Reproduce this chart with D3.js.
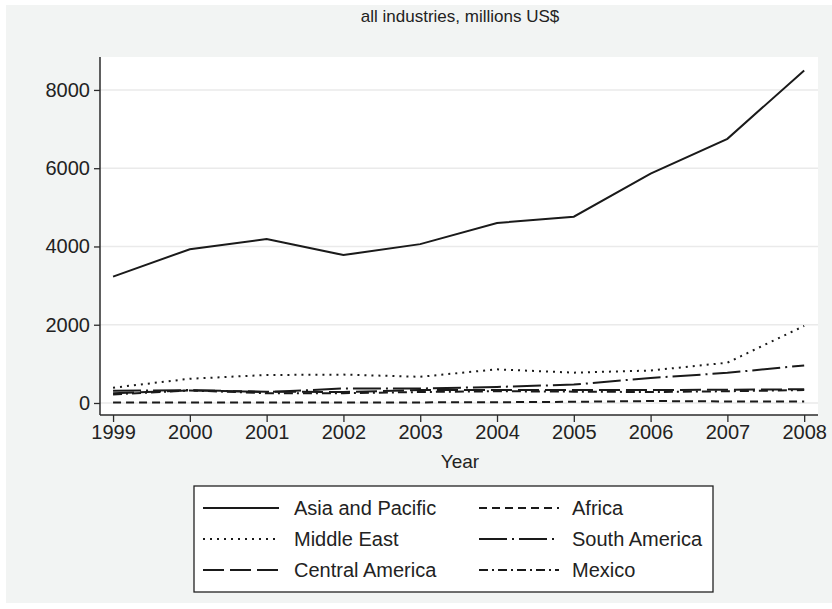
<!DOCTYPE html>
<html>
<head>
<meta charset="utf-8">
<script src="https://cdn.jsdelivr.net/npm/d3@7"></script>
<style>
  html, body { margin: 0; padding: 0; background: #ffffff; }
  svg { display: block; font-family: "Liberation Sans", Arial, Helvetica, sans-serif; }
</style>
</head>
<body>
<svg id="chart" width="832" height="609"></svg>
<script>
// FDI outflows by region, all industries, millions US$
const years = [1999, 2000, 2001, 2002, 2003, 2004, 2005, 2006, 2007, 2008];
const asiaPacific    = [3230, 3930, 4190, 3780, 4060, 4600, 4760, 5860, 6750, 8500];
const africa         = [10, 10, 15, 15, 15, 20, 30, 50, 40, 40];
const middleEast     = [390, 620, 715, 725, 670, 860, 775, 830, 1030, 1970];
const southAmerica   = [310, 330, 280, 370, 370, 410, 470, 640, 770, 960];
const centralAmerica = [250, 320, 290, 280, 330, 330, 330, 330, 340, 350];
const mexico         = [220, 320, 250, 250, 280, 300, 290, 280, 300, 330];
const yTicks = [0, 2000, 4000, 6000, 8000];

const seriesNames = ["Asia and Pacific", "Africa", "Middle East", "South America", "Central America", "Mexico"];
const seriesValues = [asiaPacific, africa, middleEast, southAmerica, centralAmerica, mexico];
const dashes = ["none", "8,5", "2,5", "28,5,2,5", "21,6", "9,4,2,4"];

const svg = d3.select("#chart");
const W = 832, H = 609;

// outer graph region
svg.append("rect").attr("x", 6).attr("y", 5).attr("width", W - 6).attr("height", 598)
  .attr("fill", "#f2f4f3");

const plot = { left: 100, right: 818, top: 57, bottom: 415 };

const x = d3.scaleLinear().domain([1998.83, 2008.18]).range([plot.left, plot.right]);
const y = d3.scaleLinear().domain([-307, 8842]).range([plot.bottom, plot.top]);

// plot region
svg.append("rect").attr("x", plot.left).attr("y", plot.top)
  .attr("width", plot.right - plot.left).attr("height", plot.bottom - plot.top)
  .attr("fill", "#ffffff");

// horizontal grid
svg.append("g").selectAll("line").data(yTicks).join("line")
  .attr("x1", plot.left).attr("x2", plot.right)
  .attr("y1", d => y(d)).attr("y2", d => y(d))
  .attr("stroke", "#eaeaea").attr("stroke-width", 1.5);

// axes
const yAxis = d3.axisLeft(y).tickValues(yTicks).tickSize(6).tickPadding(4).tickFormat(d3.format("d"));
const gy = svg.append("g").attr("transform", `translate(${plot.left},0)`).call(yAxis);
const xAxis = d3.axisBottom(x).tickValues(years).tickSize(7).tickPadding(3).tickFormat(d3.format("d"));
const gx = svg.append("g").attr("transform", `translate(0,${plot.bottom})`).call(xAxis);

[gx, gy].forEach(g => {
  g.select(".domain").remove();
  g.selectAll(".tick line").attr("stroke", "#2b2b2b").attr("stroke-width", 1.3);
  g.selectAll(".tick text").attr("fill", "#222").style("font-size", "20px");
});
svg.append("line").attr("x1", plot.left).attr("x2", plot.left)
  .attr("y1", plot.top).attr("y2", plot.bottom)
  .attr("stroke", "#2b2b2b").attr("stroke-width", 1.5);
svg.append("line").attr("x1", plot.left).attr("x2", plot.right)
  .attr("y1", plot.bottom).attr("y2", plot.bottom)
  .attr("stroke", "#2b2b2b").attr("stroke-width", 1.5);

// series lines
const line = d3.line().x((d, i) => x(years[i])).y(d => y(d));
seriesValues.forEach((vals, k) => {
  svg.append("path").datum(vals)
    .attr("d", line)
    .attr("fill", "none")
    .attr("stroke", "#1a1a1a")
    .attr("stroke-width", 2)
    .attr("stroke-dasharray", dashes[k]);
});

// titles
svg.append("text").attr("x", 460).attr("y", 22).attr("text-anchor", "middle")
  .style("font-size", "17px").attr("fill", "#222").text("all industries, millions US$");
svg.append("text").attr("x", 460).attr("y", 468).attr("text-anchor", "middle")
  .style("font-size", "19px").attr("fill", "#222").text("Year");

// legend
const leg = svg.append("g");
leg.append("rect").attr("x", 194).attr("y", 486).attr("width", 519).attr("height", 106)
  .attr("fill", "#ffffff").attr("stroke", "#222").attr("stroke-width", 1.3);
const rowY = [508, 539, 570];
const colLine = [[203, 279], [479, 559]];
const colText = [294, 572];
// two-column legend, filled row by row
seriesNames.forEach((name, k) => {
  const r = Math.floor(k / 2), c = k % 2;
  leg.append("line")
    .attr("x1", colLine[c][0]).attr("x2", colLine[c][1])
    .attr("y1", rowY[r]).attr("y2", rowY[r])
    .attr("stroke", "#1a1a1a").attr("stroke-width", 2)
    .attr("stroke-dasharray", dashes[k]);
  leg.append("text").attr("x", colText[c]).attr("y", rowY[r] + 7)
    .style("font-size", "20px").attr("fill", "#222").text(name);
});
</script>
</body>
</html>
